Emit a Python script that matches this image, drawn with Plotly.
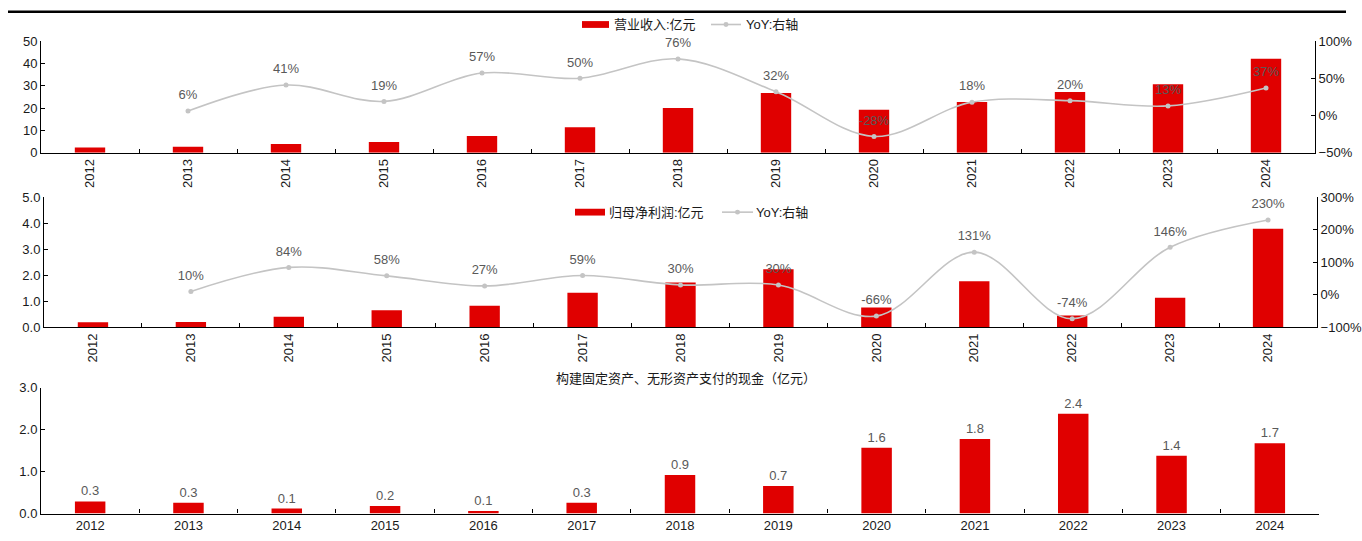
import plotly.graph_objects as go

# ---------------- data ----------------
years = [str(y) for y in range(2012, 2025)]
revenue = [2.4, 2.7, 4.0, 4.8, 7.5, 11.4, 20.0, 26.8, 19.3, 22.7, 27.2, 30.7, 42.1]
revenue_yoy = [None, 6, 41, 19, 57, 50, 76, 32, -28, 18, 20, 13, 37]
profit = [0.19, 0.20, 0.40, 0.65, 0.82, 1.32, 1.72, 2.23, 0.76, 1.77, 0.45, 1.13, 3.79]
profit_yoy = [None, 10, 84, 58, 27, 59, 30, 30, -66, 131, -74, 146, 230]
capex = [0.29, 0.26, 0.12, 0.18, 0.06, 0.26, 0.92, 0.66, 1.57, 1.78, 2.38, 1.38, 1.68]

rev_name = "营业收入:亿元"
profit_name = "归母净利润:亿元"
yoy_name = "YoY:右轴"
capex_title = "构建固定资产、无形资产支付的现金（亿元）"

# ---------------- style ----------------
W, H = 1362, 541
RED = "#E00000"
GREY_LINE = "#C4C4C4"
LABEL = "#595959"
AXIS = "#000000"
FONT = "Liberation Sans, Arial, Noto Sans CJK SC, sans-serif"


def px(x):
    return x / W


def py(y):
    return 1 - y / H


fig = go.Figure()


def yoy_traces(values, xa, ya):
    fig.add_trace(go.Scatter(x=years, y=values, xaxis=xa, yaxis=ya, mode="lines+markers",
                             line=dict(color=GREY_LINE, width=1.6, shape="spline", smoothing=1.0),
                             marker=dict(color=GREY_LINE, size=5),
                             cliponaxis=False, showlegend=False, name=yoy_name, hoverinfo="skip"))
    fig.add_trace(go.Scatter(x=years, y=values, xaxis=xa, yaxis=ya, mode="markers+text",
                             marker=dict(color="rgba(0,0,0,0)", size=12),
                             texttemplate="%{y:.0f}%", textposition="top center",
                             textfont=dict(color=LABEL, size=13, family=FONT),
                             cliponaxis=False, showlegend=False, name=yoy_name))


# ---- top: revenue ----
fig.add_trace(go.Bar(x=years, y=revenue, marker=dict(color=RED, line=dict(width=0)),
                     xaxis="x", yaxis="y", showlegend=False, name=rev_name))
yoy_traces(revenue_yoy, "x", "y2")

# ---- middle: profit ----
fig.add_trace(go.Bar(x=years, y=profit, marker=dict(color=RED, line=dict(width=0)),
                     xaxis="x2", yaxis="y3", showlegend=False, name=profit_name))
yoy_traces(profit_yoy, "x2", "y4")

# ---- bottom: capex ----
fig.add_trace(go.Bar(x=years, y=capex, marker=dict(color=RED, line=dict(width=0)),
                     xaxis="x3", yaxis="y5", texttemplate="%{y:.1f}", textposition="outside",
                     textfont=dict(color=LABEL, size=13, family=FONT),
                     cliponaxis=False, showlegend=False, name=capex_title))

tickfont = dict(size=13, color="#1a1a1a", family=FONT)
xcommon = dict(type="category", range=[-0.5, len(years) - 0.5], autorange=False,
               showline=True, linecolor=AXIS, linewidth=1.2, ticks="inside",
               ticklen=4, tickcolor=AXIS, tickson="boundaries", showgrid=False, zeroline=False,
               tickfont=tickfont)
ycommon = dict(showline=True, linecolor=AXIS, linewidth=1, ticks="inside", ticklen=4,
               tickcolor=AXIS, showgrid=False, zeroline=False, tickfont=tickfont)

fig.update_layout(
    width=W, height=H, margin=dict(l=0, r=0, t=0, b=0),
    paper_bgcolor="white", plot_bgcolor="white",
    font=dict(family=FONT), bargap=0.69, showlegend=False,
    xaxis=dict(domain=[px(41), px(1315)], anchor="y", tickangle=-90, **xcommon),
    yaxis=dict(domain=[py(150), py(35)], range=[0, 50], dtick=10, anchor="x", **ycommon),
    yaxis2=dict(range=[-50, 100], dtick=50, ticksuffix="%", overlaying="y", side="right",
                anchor="x", **ycommon),
    xaxis2=dict(domain=[px(44), px(1317)], anchor="y3", tickangle=-90, **xcommon),
    yaxis3=dict(domain=[py(329.3), py(195.7)], range=[0, 5], dtick=1, tickformat=".1f",
                anchor="x2", **ycommon),
    yaxis4=dict(range=[-100, 300], dtick=100, ticksuffix="%", overlaying="y3", side="right",
                anchor="x2", **ycommon),
    xaxis3=dict(domain=[px(41), px(1319)], anchor="y5", tickangle=0, **xcommon),
    yaxis5=dict(domain=[py(521), py(391.7)], range=[0, 3], dtick=1, tickformat=".1f",
                anchor="x3", **ycommon),
)

shapes = []
annotations = []

# header rule
shapes.append(dict(type="line", xref="paper", yref="paper", x0=px(8), x1=px(1346),
                   y0=py(5), y1=py(5), line=dict(color="black", width=2.5)))


def legend(y, rect_x0, rect_x1, text1_x, line_x0, line_x1, text2_x, name1):
    shapes.append(dict(type="rect", xref="paper", yref="paper", x0=px(rect_x0), x1=px(rect_x1),
                       y0=py(y + 3.5), y1=py(y - 3.5), fillcolor=RED, line=dict(width=0)))
    shapes.append(dict(type="line", xref="paper", yref="paper", x0=px(line_x0), x1=px(line_x1),
                       y0=py(y), y1=py(y), line=dict(color=GREY_LINE, width=1.6)))
    shapes.append(dict(type="circle", xref="paper", yref="paper",
                       x0=px((line_x0 + line_x1) / 2 - 2.5), x1=px((line_x0 + line_x1) / 2 + 2.5),
                       y0=py(y + 2.5), y1=py(y - 2.5), fillcolor=GREY_LINE, line=dict(width=0)))
    annotations.append(dict(xref="paper", yref="paper", x=px(text1_x), y=py(y), text=name1,
                            showarrow=False, xanchor="left", yanchor="middle",
                            font=dict(size=13, color="#1a1a1a", family=FONT)))
    annotations.append(dict(xref="paper", yref="paper", x=px(text2_x), y=py(y), text=yoy_name,
                            showarrow=False, xanchor="left", yanchor="middle",
                            font=dict(size=13, color="#1a1a1a", family=FONT)))


legend(18, 582, 609, 612, 711, 741, 744, rev_name)
legend(211, 575, 605, 607, 722, 753, 754, profit_name)

annotations.append(dict(xref="paper", yref="paper", x=px(686), y=py(382), text=capex_title,
                        showarrow=False, xanchor="center", yanchor="middle",
                        font=dict(size=13, color="#1a1a1a", family=FONT)))

fig.update_layout(shapes=shapes, annotations=annotations)

fig.write_html("out.html")
